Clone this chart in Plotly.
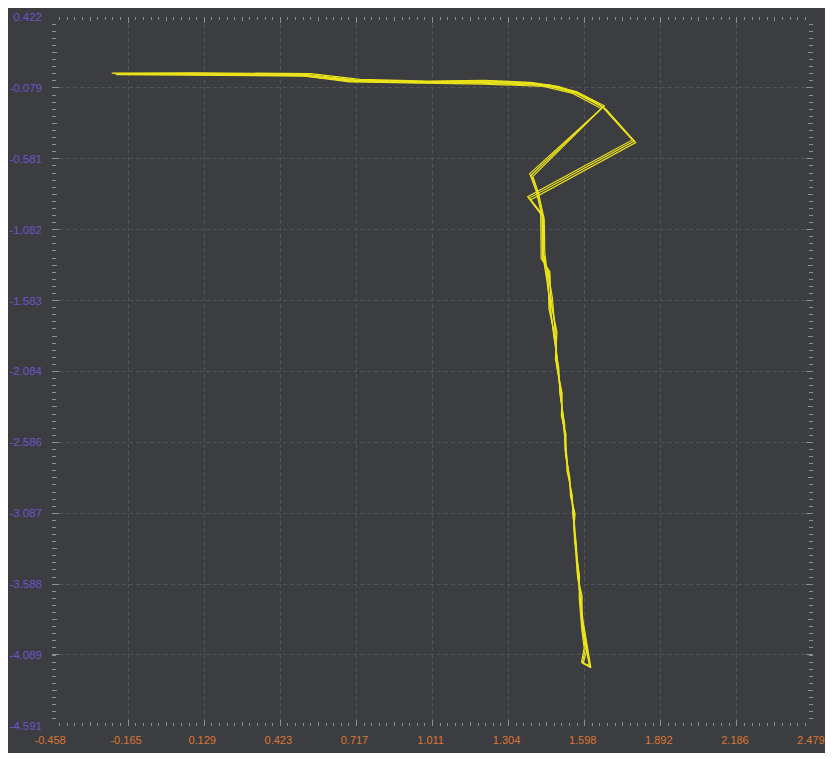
import plotly.graph_objects as go

# axis tick labels as shown on the chart
x_ticks = [-0.458, -0.165, 0.129, 0.423, 0.717, 1.011, 1.304, 1.598, 1.892, 2.186, 2.479]
y_ticks = [0.422, -0.079, -0.581, -1.082, -1.583, -2.084, -2.586, -3.087, -3.588, -4.089, -4.591]

# lap 1 of the trajectory
lap1_x = [-0.219, 0.100, 0.525, 0.717, 0.987, 1.218, 1.396, 1.500, 1.558, 1.616, 1.673,
          1.789, 1.384, 1.434, 1.434, 1.461, 1.469, 1.488, 1.488, 1.508, 1.511, 1.523,
          1.527, 1.538, 1.546, 1.558, 1.558, 1.565, 1.573, 1.585, 1.589, 1.600, 1.612,
          1.619, 1.589, 1.600, 1.590, 1.580, 1.575, 1.562, 1.555, 1.547, 1.535, 1.525,
          1.518, 1.505, 1.495, 1.482, 1.465, 1.455, 1.440, 1.438, 1.415, 1.392, 1.668,
          1.560, 1.450, 1.200, 0.950, 0.700, 0.500, 0.200, -0.180, -0.219]
lap1_y = [0.021, 0.024, 0.017, -0.023, -0.035, -0.030, -0.045, -0.073, -0.108, -0.158, -0.221,
          -0.455, -0.858, -0.978, -1.275, -1.388, -1.579, -1.812, -2.003, -2.236, -2.406, -2.519,
          -2.689, -2.830, -2.972, -3.085, -3.205, -3.325, -3.537, -3.679, -3.841, -3.983, -4.103,
          -4.173, -4.145, -4.050, -3.900, -3.700, -3.520, -3.300, -3.100, -2.950, -2.800, -2.650,
          -2.450, -2.250, -2.050, -1.850, -1.650, -1.450, -1.250, -1.000, -0.815, -0.695, -0.215,
          -0.112, -0.062, -0.046, -0.041, -0.031, 0.008, 0.012, 0.016, 0.021]

# lap 2
lap2_x = [-0.210, 0.120, 0.510, 0.700, 0.980, 1.230, 1.400, 1.508, 1.566, 1.622, 1.680,
          1.795, 1.390, 1.440, 1.438, 1.458, 1.474, 1.484, 1.492, 1.504, 1.515, 1.520,
          1.530, 1.535, 1.550, 1.555, 1.561, 1.568, 1.576, 1.582, 1.592, 1.604, 1.615,
          1.622, 1.592, 1.606, 1.594, 1.584, 1.570, 1.566, 1.552, 1.550, 1.530, 1.528,
          1.514, 1.508, 1.490, 1.486, 1.460, 1.458, 1.444, 1.442, 1.420, 1.398, 1.662,
          1.552, 1.440, 1.210, 0.960, 0.690, 0.520, 0.180, -0.170, -0.210]
lap2_y = [0.015, 0.019, 0.012, -0.030, -0.040, -0.036, -0.050, -0.080, -0.116, -0.166, -0.230,
          -0.465, -0.870, -0.985, -1.260, -1.395, -1.570, -1.820, -2.010, -2.230, -2.415, -2.510,
          -2.700, -2.820, -2.980, -3.080, -3.215, -3.330, -3.530, -3.690, -3.850, -3.990, -4.110,
          -4.180, -4.150, -4.060, -3.890, -3.710, -3.510, -3.310, -3.090, -2.960, -2.790, -2.660,
          -2.440, -2.260, -2.040, -1.860, -1.640, -1.460, -1.240, -1.010, -0.825, -0.705, -0.225,
          -0.118, -0.068, -0.052, -0.046, -0.036, 0.004, 0.008, 0.010, 0.015]

# lap 3
lap3_x = [-0.228, 0.090, 0.540, 0.730, 0.995, 1.210, 1.390, 1.494, 1.552, 1.610, 1.666,
          1.782, 1.378, 1.428, 1.430, 1.464, 1.466, 1.491, 1.485, 1.511, 1.508, 1.526,
          1.524, 1.541, 1.543, 1.561, 1.556, 1.562, 1.571, 1.588, 1.586, 1.597, 1.609,
          1.616, 1.586, 1.596, 1.587, 1.577, 1.578, 1.559, 1.558, 1.544, 1.538, 1.522,
          1.521, 1.502, 1.498, 1.479, 1.468, 1.452, 1.436, 1.434, 1.410, 1.386, 1.674,
          1.566, 1.460, 1.190, 0.940, 0.710, 0.490, 0.210, -0.190, -0.228]
lap3_y = [0.026, 0.028, 0.022, -0.018, -0.030, -0.025, -0.040, -0.067, -0.101, -0.151, -0.213,
          -0.447, -0.848, -0.970, -1.285, -1.380, -1.588, -1.805, -1.995, -2.243, -2.398, -2.527,
          -2.680, -2.838, -2.965, -3.092, -3.197, -3.318, -3.545, -3.670, -3.833, -3.975, -4.095,
          -4.165, -4.140, -4.040, -3.910, -3.690, -3.530, -3.290, -3.110, -2.940, -2.810, -2.640,
          -2.460, -2.240, -2.060, -1.840, -1.660, -1.440, -1.260, -0.990, -0.805, -0.685, -0.207,
          -0.105, -0.056, -0.040, -0.036, -0.026, 0.013, 0.017, 0.021, 0.026]

bg = "#3c3d40"
grid = "#525357"
tickcol = "#8e8f91"
xrange = [x_ticks[0] - 0.0005, x_ticks[-1] + 0.0005]
yrange = [y_ticks[-1] - 0.0005, y_ticks[0] + 0.0005]

# half-way ticks (slightly longer than the minor ones)
x_half = [(a + b) / 2 for a, b in zip(x_ticks[:-1], x_ticks[1:])]
y_half = [(a + b) / 2 for a, b in zip(y_ticks[:-1], y_ticks[1:])]

fig = go.Figure()
for lx, ly in [(lap1_x, lap1_y), (lap2_x, lap2_y), (lap3_x, lap3_y)]:
    fig.add_scatter(x=lx, y=ly, mode="lines", line=dict(color="#ece41a", width=1.2),
                    showlegend=False, hoverinfo="skip")

fig.update_layout(
    xaxis=dict(range=xrange, tickmode="array", tickvals=x_ticks,
               ticktext=["%.3f" % v for v in x_ticks], automargin=False,
               showgrid=True, gridcolor=grid, griddash="4px,3px", gridwidth=1,
               zeroline=False, showline=False, ticks="inside", ticklen=6, tickcolor=tickcol,
               mirror="ticks", ticklabelstandoff=6, ticklabeloverflow="allow",
               ticklabelshift=-2,
               tickfont=dict(color="#dc7733", size=11, family="Liberation Sans"),
               minor=dict(ticks="inside", ticklen=3, tickcolor=tickcol, tick0=x_ticks[0],
                          dtick=0.02937, showgrid=False)),
    yaxis=dict(range=yrange, tickmode="array", tickvals=y_ticks,
               ticktext=["%.3f" % v for v in y_ticks], automargin=False,
               showgrid=True, gridcolor=grid, griddash="4px,3px", gridwidth=1,
               zeroline=False, showline=False, ticks="inside", ticklen=7, tickcolor=tickcol,
               mirror="ticks", ticklabelstandoff=9, ticklabeloverflow="allow",
               tickfont=dict(color="#6f55cc", size=11.5, family="Liberation Sans"),
               minor=dict(ticks="inside", ticklen=4, tickcolor=tickcol, tick0=y_ticks[-1],
                          dtick=0.05013, showgrid=False)),
    xaxis2=dict(range=xrange, overlaying="x", anchor="y", side="bottom", tickmode="array",
                tickvals=x_half, showticklabels=False, showgrid=False, zeroline=False,
                ticks="inside", ticklen=4, tickcolor=tickcol, mirror="ticks", automargin=False),
    yaxis2=dict(range=yrange, overlaying="y", anchor="x", side="left", tickmode="array",
                tickvals=y_half, showticklabels=False, showgrid=False, zeroline=False,
                ticks="inside", ticklen=5, tickcolor=tickcol, mirror="ticks", automargin=False),
    width=818, height=745, margin=dict(l=44, r=13, t=9, b=27),
    paper_bgcolor=bg, plot_bgcolor=bg, showlegend=False,
)
# empty trace so the overlay axes get drawn
fig.add_scatter(x=[], y=[], xaxis="x2", yaxis="y2", showlegend=False, hoverinfo="skip")

fig.write_html("out.html")
